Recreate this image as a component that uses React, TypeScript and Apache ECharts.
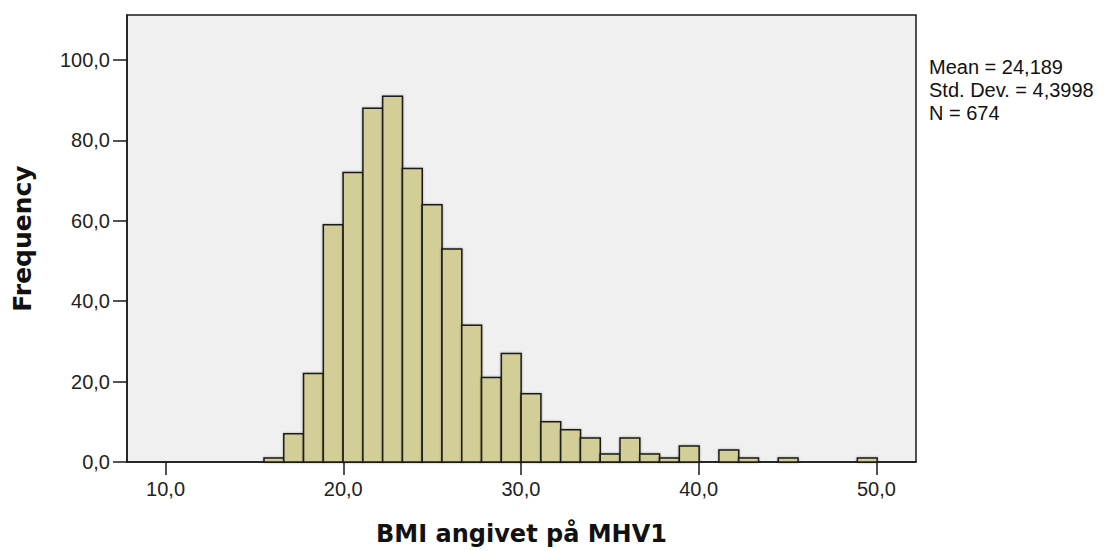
import React, { useEffect, useRef } from "react";
import * as echarts from "echarts";

// Histogram data
const binStart = 15.54;
const binWidth = 1.113;
const counts = [1, 7, 22, 59, 72, 88, 91, 73, 64, 53, 34, 21, 27, 17, 10, 8, 6, 2, 6, 2, 1, 4, 0, 3, 1, 0, 1, 0, 0, 0, 1];
const xTicks = [10, 20, 30, 40, 50];
const yTicks = [0, 20, 40, 60, 80, 100];
const statsLines = ["Mean = 24,189", "Std. Dev. = 4,3998", "N = 674"];
const xTitle = "BMI angivet på MHV1";
const yTitle = "Frequency";

const fmt = (v: number) => v.toFixed(1).replace(".", ",");

export default function App() {
  const ref = useRef<HTMLDivElement>(null);
  useEffect(() => {
    document.body.style.margin = "0";
    const chart = echarts.init(ref.current!, null, { renderer: "svg" });
    const data = counts.map((c, i) => [binStart + i * binWidth, binStart + (i + 1) * binWidth, c]);
    chart.setOption({
      animation: false,
      backgroundColor: "#ffffff",
      textStyle: { fontFamily: "Liberation Sans, Arial, sans-serif" },
      grid: {
        left: 127,
        right: 191,
        top: 15,
        bottom: 88,
        show: true,
        backgroundColor: "#f0f0f0",
        borderColor: "#1a1a1a",
        borderWidth: 1.5,
      },
      xAxis: {
        type: "value",
        min: 7.83,
        max: 52.23,
        name: xTitle,
        nameLocation: "middle",
        nameGap: 60,
        nameTextStyle: { fontSize: 24, fontWeight: "bold", color: "#111", fontFamily: "DejaVu Sans, sans-serif" },
        axisLine: { show: true, lineStyle: { color: "#1a1a1a", width: 1.5 } },
        axisTick: { show: true, length: 13, lineStyle: { color: "#1a1a1a", width: 1.5 }, customValues: xTicks },
        axisLabel: { fontSize: 20, color: "#222", margin: 17, formatter: fmt, customValues: xTicks },
        splitLine: { show: false },
      },
      yAxis: {
        type: "value",
        min: 0,
        max: 111.2,
        name: yTitle,
        nameLocation: "middle",
        nameGap: 92,
        nameRotate: 90,
        nameTextStyle: { fontSize: 25, fontWeight: "bold", color: "#111", fontFamily: "DejaVu Sans, sans-serif" },
        axisLine: { show: true, lineStyle: { color: "#1a1a1a", width: 1.5 } },
        axisTick: { show: true, length: 14, lineStyle: { color: "#1a1a1a", width: 1.5 }, customValues: yTicks },
        axisLabel: { fontSize: 20, color: "#222", margin: 17, formatter: fmt, customValues: yTicks },
        splitLine: { show: false },
      },
      graphic: [
        {
          type: "text",
          left: 929,
          top: 55,
          style: {
            text: statsLines.join("\n"),
            fontSize: 20,
            lineHeight: 23,
            fill: "#111",
            fontFamily: "Liberation Sans, Arial, sans-serif",
          },
        },
      ],
      series: [
        {
          type: "custom",
          data: data.filter((d) => d[2] > 0),
          encode: { x: [0, 1], y: 2 },
          renderItem: (params: any, api: any) => {
            const p0 = api.coord([api.value(0), api.value(2)]);
            const p1 = api.coord([api.value(1), 0]);
            return {
              type: "rect",
              shape: { x: p0[0], y: p0[1], width: p1[0] - p0[0], height: p1[1] - p0[1] },
              style: {
                fill: "#d3ce97",
                stroke: "#1a1a1a",
                lineWidth: 1.5,
                shadowBlur: 2,
                shadowColor: "rgba(0,0,0,0.35)",
              },
            };
          },
        },
      ],
    });
    return () => chart.dispose();
  }, []);
  return <div ref={ref} style={{ width: 1107, height: 551 }} />;
}
